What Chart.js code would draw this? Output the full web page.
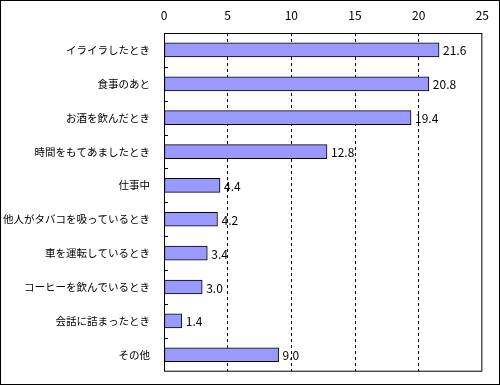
<!DOCTYPE html>
<html>
<head>
<meta charset="utf-8">
<script src="https://cdn.jsdelivr.net/npm/chart.js@4/dist/chart.umd.min.js"></script>
<style>
  html, body { margin: 0; padding: 0; background: #fff; }
  #wrap { width: 498px; height: 383px; border: 1px solid #000; }
</style>
</head>
<body>
<div id="wrap"><canvas id="grafico" width="498" height="383"></canvas></div>
<script>
const categorias = [
  "イライラしたとき",
  "食事のあと",
  "お酒を飲んだとき",
  "時間をもてあましたとき",
  "仕事中",
  "他人がタバコを吸っているとき",
  "車を運転しているとき",
  "コーヒーを飲んでいるとき",
  "会話に詰まったとき",
  "その他"
];
const valores = [21.6, 20.8, 19.4, 12.8, 4.4, 4.2, 3.4, 3.0, 1.4, 9.0];
const ticksX = [0, 5, 10, 15, 20, 25];

const FONTE = "'Noto Sans CJK JP', 'DejaVu Sans', sans-serif";

// moldura da área do gráfico + marquinhas entre categorias + rótulos de valor
const extras = {
  id: "extras",
  afterDatasetsDraw(chart) {
    const { ctx, chartArea: a, scales } = chart;
    ctx.save();
    ctx.strokeStyle = "#000";
    ctx.lineWidth = 1;
    ctx.strokeRect(a.left + 0.5, a.top + 0.5, a.right - a.left - 1, a.bottom - a.top - 1);

    // marcas entre as categorias, para dentro do eixo
    const y = scales.y;
    for (let i = 1; i < categorias.length; i++) {
      const py = Math.round((y.getPixelForValue(i - 1) + y.getPixelForValue(i)) / 2) + 0.5;
      ctx.beginPath();
      ctx.moveTo(a.left, py);
      ctx.lineTo(a.left + 4, py);
      ctx.stroke();
    }

    // valores ao lado das barras
    ctx.fillStyle = "#000";
    ctx.font = "12px " + FONTE;
    ctx.textAlign = "left";
    ctx.textBaseline = "middle";
    chart.getDatasetMeta(0).data.forEach((bar, i) => {
      ctx.fillText(valores[i].toFixed(1), bar.x + 4, bar.y + 1);
    });
    ctx.restore();
  }
};

new Chart(document.getElementById("grafico"), {
  type: "bar",
  data: {
    labels: categorias,
    datasets: [{
      data: valores,
      backgroundColor: "#9999ff",
      borderColor: "#000",
      borderWidth: 1,
      borderSkipped: false,
      barThickness: 14
    }]
  },
  options: {
    indexAxis: "y",
    responsive: false,
    animation: false,
    devicePixelRatio: 1,
    layout: { padding: { left: 0, right: 11, top: 0, bottom: 5 } },
    plugins: { legend: { display: false }, tooltip: { enabled: false } },
    scales: {
      x: {
        position: "top",
        min: 0,
        max: 25,
        afterFit: s => { s.height = 32; },
        afterBuildTicks: s => { s.ticks = ticksX.map(v => ({ value: v })); },
        ticks: { color: "#000", padding: 10, font: { family: FONTE, size: 12 } },
        grid: {
          drawTicks: false,
          color: ctx => (ctx.tick && (ctx.tick.value === 0 || ctx.tick.value === 25)) ? "rgba(0,0,0,0)" : "#000",
          lineWidth: 1
        },
        border: { display: false, dash: [3, 3] }
      },
      y: {
        afterFit: s => { s.width = 163; },
        ticks: { color: "#000", padding: 6, font: { family: FONTE, size: 10.5 } },
        grid: { display: false },
        border: { display: false }
      }
    }
  },
  plugins: [extras]
});
</script>
</body>
</html>
